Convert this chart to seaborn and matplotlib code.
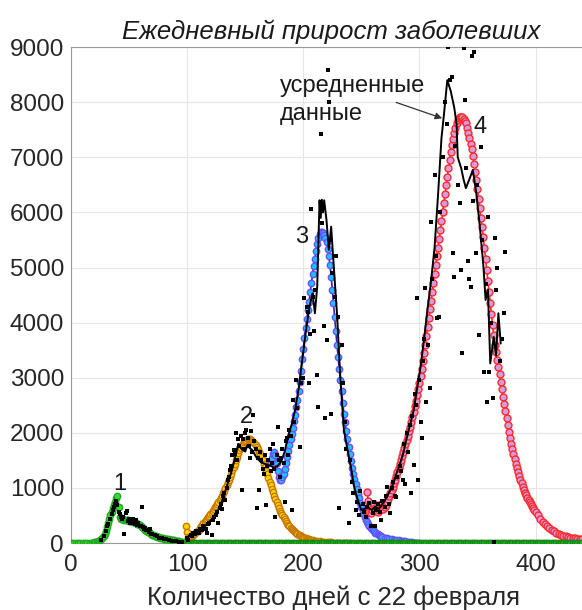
import matplotlib
matplotlib.use('Agg')
import matplotlib.pyplot as plt
import seaborn as sns

# ---- данные ----
# волна 1 (зелёная)
green_days = list(range(0, 20, 2)) + list(range(20, 100))
green_vals = [0, 0, 0, 0, 0, 0, 0, 0, 0, 0,
              10, 15, 20, 30, 40, 55, 75, 100, 130, 170,
              220, 290, 370, 440, 510, 570, 630, 690, 750, 810,
              850, 650, 470, 445, 435, 430, 425, 420, 415, 410,
              405, 400, 395, 390, 385, 375, 365, 352, 338, 322,
              306, 290, 272, 256, 240, 224, 208, 193, 178, 164,
              152, 142, 132, 124, 116, 109, 102, 96, 91, 86,
              82, 78, 74, 70, 66, 62, 58, 55, 52, 48,
              44, 40, 35, 30, 25, 20, 15, 10, 6, 3]
green_tail_days = list(range(100, 441, 2))
green_tail_vals = [0] * len(green_tail_days)

# волна 2 (оранжевая)
orange_days = list(range(99, 211)) + list(range(212, 241, 2))
orange_vals = [300, 200, 110, 100, 115, 130, 145, 160, 180, 200,
               220, 245, 270, 300, 330, 360, 385, 410, 440, 465,
               490, 520, 550, 580, 610, 645, 680, 715, 750, 785,
               820, 860, 900, 950, 1000, 1050, 1100, 1150, 1200, 1260,
               1320, 1380, 1440, 1510, 1570, 1630, 1680, 1730, 1770, 1800,
               1830, 1855, 1870, 1880, 1885, 1880, 1870, 1855, 1835, 1810,
               1780, 1745, 1705, 1660, 1610, 1555, 1500, 1440, 1375, 1310,
               1245, 1180, 1115, 1050, 985, 920, 855, 795, 740, 685,
               635, 590, 545, 505, 465, 430, 395, 365, 335, 305,
               280, 255, 235, 215, 195, 180, 165, 150, 137, 125,
               114, 104, 95, 87, 80, 73, 66, 60, 55, 50,
               45, 41,
               34, 28, 23, 19, 15, 12, 10, 8, 6, 5, 4, 3, 2, 1, 0]

# волна 3 (синяя)
blue_days = list(range(172, 269)) + list(range(270, 301, 2))
blue_vals = [1450, 1550, 1620, 1660, 1600, 1450, 1300, 1200, 1150, 1150,
             1190, 1260, 1350, 1450, 1560, 1670, 1780, 1880, 1980, 2090,
             2210, 2330, 2460, 2600, 2750, 2930, 3130, 3340, 3530, 3720,
             3900, 4060, 4220, 4380, 4550, 4720, 4880, 5020, 5160, 5300,
             5420, 5530, 5600, 5640, 5650, 5630, 5590, 5530, 5460, 5340,
             5200, 5050, 4830, 4600, 4350, 4100, 3850, 3600, 3380, 3160,
             2950, 2750, 2550, 2350, 2190, 2030, 1880, 1740, 1610, 1480,
             1370, 1260, 1160, 1070, 980, 890, 810, 730, 660, 590,
             530, 470, 425, 380, 340, 310, 280, 250, 230, 210,
             190, 175, 160, 145, 132, 120, 110,
             100, 90, 80, 70, 62, 54, 46, 40, 34, 28, 22, 17, 13, 9, 6, 3]

# волна 4 (красная)
red_days = list(range(255, 401)) + list(range(402, 441, 2))
red_vals = [930, 760, 560, 540, 600, 660, 700, 640, 590, 560,
            600, 650, 700, 660, 620, 650, 690, 740, 790, 845,
            900, 960, 1020, 1085, 1150, 1220, 1290, 1360, 1430, 1505,
            1580, 1650, 1720, 1795, 1865, 1940, 2025, 2110, 2200, 2290,
            2380, 2480, 2580, 2685, 2790, 2900, 3030, 3160, 3300, 3450,
            3600, 3760, 3920, 4080, 4240, 4400, 4560, 4720, 4880, 5040,
            5200, 5360, 5520, 5680, 5840, 6000, 6165, 6330, 6490, 6650,
            6800, 6950, 7090, 7220, 7340, 7450, 7540, 7615, 7670, 7710,
            7730, 7735, 7725, 7700, 7665, 7620, 7540, 7450, 7350, 7250,
            7150, 7020, 6880, 6730, 6580, 6420, 6250, 6080, 5905, 5730,
            5550, 5350, 5150, 4950, 4750, 4550, 4350, 4160, 3960, 3770,
            3600, 3460, 3320, 3190, 3060, 2920, 2790, 2650, 2520, 2390,
            2260, 2140, 2020, 1910, 1800, 1700, 1610, 1520, 1440, 1360,
            1280, 1215, 1150, 1085, 1020, 960, 915, 870, 825, 780,
            740, 700, 665, 630, 595, 560,
            500, 440, 390, 340, 300, 265, 235, 210, 185, 165,
            150, 135, 122, 110, 100, 92, 85, 78, 72, 66]

# усреднённые данные (чёрная линия)
avg_days = [0, 5, 10, 15, 20, 24, 27, 30, 33, 36, 38, 40, 42, 44, 47, 50, 54, 58, 62, 66,
            70, 74, 78, 82, 86, 90, 94, 98, 100, 102, 106, 110, 114, 118, 122, 126, 130, 134, 138, 141,
            144, 147, 150, 152, 154, 156, 160, 164, 168, 172, 175, 178, 181, 184, 187, 190, 193, 196, 199, 202,
            205, 207, 208, 210, 212, 214, 215, 216, 217, 218, 220, 222, 224, 226, 229, 232, 235, 238, 241, 244,
            247, 250, 253, 256, 259, 262, 265, 268, 271, 274, 277, 280, 283, 286, 289, 292, 295, 298, 301, 304,
            307, 310, 313, 316, 319, 321, 324, 327, 330, 332, 333, 336, 338, 340, 343, 346, 349, 352, 355, 357,
            359, 361, 364, 366, 368, 370]
avg_vals = [0, 0, 0, 5, 10, 30, 80, 220, 400, 560, 680, 700, 520, 460, 440, 420, 390, 340, 290, 230,
            170, 125, 95, 70, 50, 30, 15, 10, 90, 145, 170, 220, 280, 360, 450, 560, 760, 1020, 1280, 1520,
            1800, 1700, 1660, 1780, 1720, 1690, 1540, 1460, 1430, 1400, 1370, 1400, 1480, 1660, 1950, 2150, 2420, 2800, 3300, 3800,
            4250, 4450, 4530, 4170, 4650, 6220, 5900, 6230, 6000, 6220, 5860, 5320, 5740, 5100, 4170, 2960, 2050, 1700, 1380, 1000,
            780, 600, 620, 640, 600, 660, 620, 700, 800, 920, 1050, 1250, 1420, 1620, 1900, 2150, 2400, 2800, 3200, 3700,
            4250, 4750, 5350, 6300, 7350, 7750, 8400, 8200, 7900, 7600, 7000, 6800, 6600, 6440, 6600, 6770, 6350, 5750, 5050, 4410,
            4600, 3260, 3740, 3400, 4170, 3620]

# исходные ежедневные данные (точки)
dot_days = [26, 28, 30, 31, 32, 34, 35, 36, 37, 38, 39, 40, 41, 42, 43, 44, 45, 46, 47, 48,
            49, 50, 51, 52, 53, 54, 55, 56, 57, 58, 59, 60, 61, 62, 63, 64, 65, 66, 67, 68,
            69, 70, 72, 74, 76, 78, 80, 82, 84, 87, 90, 93, 96,
            100, 101, 103, 104, 105, 107, 108, 110, 111, 113, 114, 116, 117, 118, 119, 121, 122, 123, 125, 126,
            127, 128, 129, 130, 131, 132, 133, 134, 135, 136, 137, 138, 139, 140, 141, 142, 143, 144, 145, 146,
            147, 148, 149, 150, 151, 152, 153, 154, 155, 156, 157, 158, 159, 160, 161, 162, 163, 164, 165, 166,
            167, 168, 169, 170, 171, 172, 173, 174, 175, 176, 177, 178, 179, 180, 181, 182, 183, 184, 185, 186,
            187, 188, 189, 190, 191, 192, 194, 195, 197, 198, 200, 201, 203, 204, 205, 206, 207, 208, 209, 210,
            212, 213, 215, 216, 218, 219, 220, 221, 222, 223, 224, 225, 227, 228, 230, 231, 233, 234, 236, 237,
            239, 240, 242, 243, 245, 246, 248, 249, 251, 252, 254, 255, 257, 258, 260, 261, 262, 263, 264, 266,
            267, 268, 270, 271, 272, 274, 275, 276, 277, 279, 280, 281, 283, 284, 286, 287, 288, 289, 290, 292,
            293, 294, 295, 296, 297, 298, 299, 300, 301, 302, 303, 304, 305, 306, 307, 309, 310, 311, 313, 314,
            315, 317, 318, 320, 322, 324, 325, 326, 328, 329, 330, 331, 333, 335, 336, 337, 338, 339, 340, 342,
            343, 344, 345, 346, 347, 349, 350, 351, 353, 354, 356, 357, 358, 359, 360, 362, 363, 364, 365, 366,
            367, 369, 371, 373, 374]
dot_vals = [60, 130, 210, 300, 340, 430, 520, 600, 660, 710, 760, 690, 560, 520, 480, 430, 470, 170, 550, 590,
            400, 440, 360, 400, 430, 370, 350, 410, 330, 360, 300, 310, 650, 290, 260, 280, 230, 240, 200, 250,
            170, 160, 140, 120, 90, 85, 70, 65, 50, 40, 30, 20, 10,
            100, 60, 150, 120, 180, 160, 220, 180, 260, 240, 300, 260, 180, 340, 370, 150, 420, 480, 500, 560,
            360, 640, 700, 620, 860, 900, 780, 1000, 1150, 1200, 1320, 1400, 1600, 1680, 1620, 1990, 1500, 1880, 1760, 1950,
            960, 1880, 1700, 2000, 2060, 1900, 1760, 1550, 2030, 1650, 2320, 1850, 1700, 630, 1550, 960, 1650, 1500, 1350, 1250,
            1600, 690, 1400, 1500, 1700, 1300, 1450, 1800, 1350, 480, 1600, 2110, 1500, 1200, 1550, 1700, 1450, 750, 1850, 1900,
            1600, 2050, 1950, 600, 2600, 2200, 2950, 2450, 1750, 2900, 3000, 4440, 4290, 4200, 2900, 3800, 6070, 4470, 3840, 4600,
            3050, 2470, 7430, 5800, 3940, 2260, 3680, 8580, 8010, 5500, 2350, 4900, 4470, 5200, 4100, 630, 3600, 2900, 2200, 1700,
            360, 1500, 1100, 900, 600, 750, 500, 950, 700, 560, 480, 650, 720, 300, 550, 750, 300, 600, 700, 560,
            420, 760, 650, 850, 1020, 700, 540, 1000, 1100, 850, 840, 1200, 1400, 1300, 1150, 1800, 1080, 2000, 1650, 2150,
            900, 2300, 1420, 2700, 2500, 4440, 1140, 2950, 2200, 1900, 3300, 3700, 4620, 2560, 3600, 2810, 5830, 4800, 6680, 5200,
            4080, 4110, 6000, 7000, 8010, 7600, 9000, 8400, 8460, 5260, 4830, 7200, 6500, 6170, 4960, 3450, 8980, 8040, 6800, 5110,
            4800, 4650, 8830, 6200, 8920, 5260, 6500, 3780, 7190, 5500, 3110, 4700, 2560, 5920, 3100, 4000, 2630, 20, 5530, 4590,
            4990, 3300, 3700, 4170, 5290]

x_ticks = [0, 100, 200, 300, 400]
y_ticks = [0, 1000, 2000, 3000, 4000, 5000, 6000, 7000, 8000, 9000]

# ---- оформление ----
sns.set_style('whitegrid', {'grid.color': '#e6e6e6', 'axes.edgecolor': '#9a9a9a'})
plt.rcParams['font.family'] = ['Liberation Sans', 'DejaVu Sans']

fig = plt.figure(figsize=(5.82, 6.10), dpi=100)
ax = fig.add_axes([0.122, 0.1098, 0.878, 0.813])


def curve(days, vals, line, face, edge, ms, z, lw=1.2):
    # аппроксимирующая кривая с кружками
    sns.lineplot(x=days, y=vals, ax=ax, color=line, lw=lw, marker='o', markersize=ms,
                 markerfacecolor=face, markeredgecolor=edge, markeredgewidth=1.0,
                 estimator=None, sort=False, zorder=z)


curve(orange_days, orange_vals, '#c87a00', '#ffd400', '#c87a00', 4.6, 3)
curve(blue_days, blue_vals, '#3a1f9a', '#19c3ff', '#6a50ff', 4.6, 3)
curve(red_days, red_vals, '#ff2a2a', '#d69ae0', '#ff2a2a', 5.0, 3)

# усреднённые данные
sns.lineplot(x=avg_days, y=avg_vals, ax=ax, color='black', lw=1.4,
             estimator=None, sort=False, zorder=4)

curve(green_days, green_vals, '#1fa01f', '#33dd33', '#22aa22', 4.6, 5)
curve(green_tail_days, green_tail_vals, '#1a9a1a', '#22b322', '#158a15', 4.6, 5, lw=3)

# исходные точки
sns.scatterplot(x=dot_days, y=dot_vals, ax=ax, marker='s', s=5, color='black',
                linewidth=0, zorder=6)

ax.set_xlim(0, 440)
ax.set_ylim(0, 9000)
ax.set_xticks(x_ticks)
ax.set_yticks(y_ticks)
ax.tick_params(labelsize=17.5, colors='#262626', direction='in', length=4)
ax.tick_params(axis='y', pad=5)
ax.tick_params(axis='x', pad=8)
ax.spines['right'].set_visible(False)

ax.set_title('Ежедневный прирост заболевших', fontsize=18.5, fontstyle='italic',
             color='#1a1a1a', pad=6, x=0.51)
ax.set_xlabel('Количество дней с 22 февраля', fontsize=18.5, color='#262626', labelpad=6)
ax.xaxis.set_label_coords(0.513, -0.085)
ax.set_ylabel('')

for label, xd, yv in [('1', 41.6, 1080), ('2', 150.9, 2290), ('3', 198.9, 5550), ('4', 352.6, 7550)]:
    ax.text(xd, yv, label, fontsize=17, ha='center', va='center', color='#1a1a1a', zorder=7)

ax.annotate('усредненные\nданные', xy=(319.6, 7708), xytext=(180, 8040),
            fontsize=17, ha='left', va='center', color='#1a1a1a', linespacing=1.3,
            arrowprops=dict(arrowstyle='-|>', color='#333333', lw=0.9,
                            shrinkA=0, shrinkB=0, mutation_scale=10,
                            relpos=(0.8, 0.45), patchA=None),
            zorder=7)

fig.savefig('out.png', dpi=100)
